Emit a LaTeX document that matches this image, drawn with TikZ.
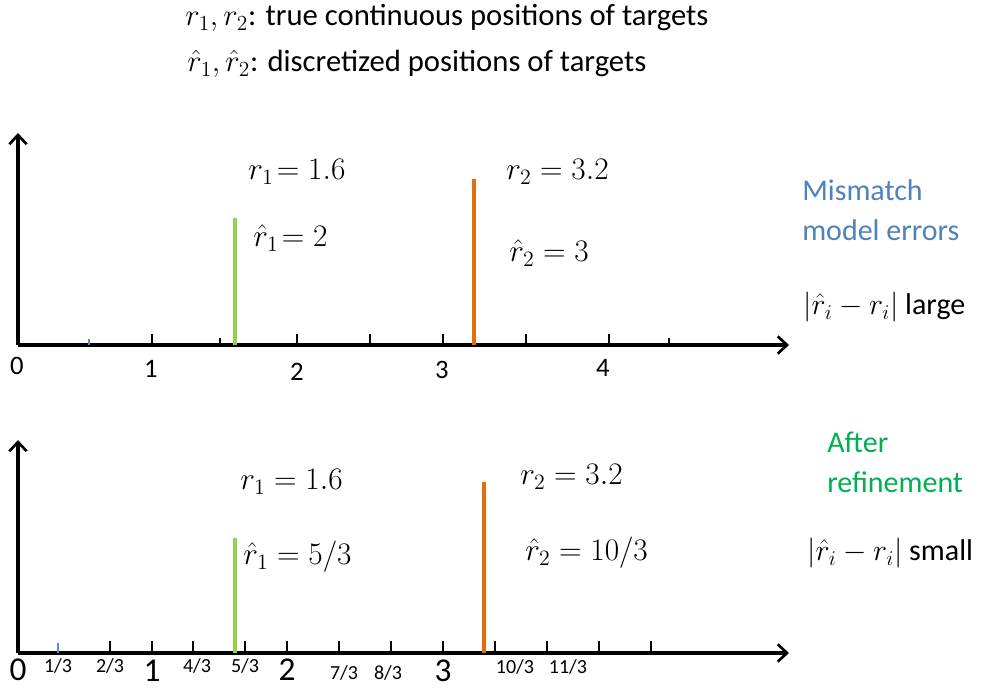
\RequirePackage{fix-cm}
\documentclass[tikz,border=0pt]{standalone}
\usepackage{fontspec}
\setmainfont{Carlito}
\usetikzlibrary{arrows.meta}
\definecolor{tgreen}{HTML}{92D050}
\definecolor{torange}{HTML}{E46C0A}
\definecolor{tblue}{HTML}{4F81BD}
\definecolor{tgreentext}{HTML}{00B050}
\definecolor{tickblue}{HTML}{5B8BD0}
\tikzset{
  axisline/.style={line width=2.3pt,-{Straight Barb[length=7pt,width=13pt,line width=2pt]}},
  tickmark/.style={line width=1.1pt},
  shorttick/.style={line width=1.1pt},
  bluetick/.style={line width=0.8pt,draw=tickblue},
  greenline/.style={line width=2.4pt,draw=tgreen},
  orangeline/.style={line width=2.4pt,draw=torange},
  titletext/.style={font=\fontsize{23}{27}\selectfont,inner sep=0pt,anchor=base west},
  mathlabel/.style={font=\fontsize{23.5}{28}\selectfont,inner sep=0pt,anchor=west},
  digitA/.style={font=\fontsize{20}{24}\selectfont,inner sep=0pt,anchor=base},
  digitB/.style={font=\fontsize{25}{30}\selectfont,inner sep=0pt,anchor=base},
  fracl/.style={font=\fontsize{15}{18}\selectfont,inner sep=0pt,anchor=base},
  sidetext/.style={font=\fontsize{22.5}{30}\selectfont,inner sep=0pt,anchor=west,align=left},
}
\begin{document}
\begin{tikzpicture}[x=0.75pt,y=-0.75pt]
\useasboundingbox (0,0) rectangle (982,688);
% titles
\node[titletext] (t1) at (185,26) {$r_1,r_2$: true continuous positions of targets};
\node[titletext] (t2) at (187,72) {$\hat r_1,\hat r_2$: discretized positions of targets};
% ---------- top axis ----------
\coordinate (oA) at (18,345);
\coordinate (xA) at (789,345);
\coordinate (yA) at (18,133);
\draw[axisline] (oA) -- (xA);
\draw[axisline] (oA) -- (yA);
\foreach \x in {152,297,370,443,526,609}{\draw[tickmark] (\x,334) -- (\x,345);}
\foreach \x in {220,669}{\draw[shorttick] (\x,338) -- (\x,345);}
\draw[bluetick] (89,339) -- (89,345);
\coordinate (gA) at (235,345);
\coordinate (gAt) at (235,218);
\coordinate (oAb) at (474,345);
\coordinate (oAt) at (474,179);
\draw[greenline] (gA) -- (gAt);
\draw[orangeline] (oAb) -- (oAt);
\node[digitA] (a0) at (17,374) {0};
\node[digitA] (a1) at (151,377) {1};
\node[digitA] (a2) at (297,380) {2};
\node[digitA] (a3) at (442,378) {3};
\node[digitA] (a4) at (603,376) {4};
\node[mathlabel] (r1a) at (248,172) {$r_1\!=1.6$};
\node[mathlabel] (rh1a) at (253,238) {$\hat r_1\!=2$};
\node[mathlabel] (r2a) at (506,172) {$r_2=3.2$};
\node[mathlabel] (rh2a) at (509,253) {$\hat r_2=3$};
\node[sidetext,text=tblue] (mis) at (802,210) {Mismatch\\model errors};
\node[sidetext] (lg) at (803,307) {$|\hat r_i-r_i|$ large};
% ---------- bottom axis ----------
\coordinate (oB) at (18,653);
\coordinate (xB) at (789,653);
\coordinate (yB) at (18,440);
\draw[axisline] (oB) -- (xB);
\draw[axisline] (oB) -- (yB);
\foreach \x in {110,152,193,245,287,339,391,443,495,547,599,651}{\draw[tickmark] (\x,641) -- (\x,653);}
\draw[bluetick] (58,643) -- (58,653);
\coordinate (gB) at (235,653);
\coordinate (gBt) at (235,538);
\coordinate (oBb) at (484,653);
\coordinate (oBt) at (484,482);
\draw[greenline] (gB) -- (gBt);
\draw[orangeline] (oBb) -- (oBt);
\node[digitB] (b0) at (18,680) {0};
\node[fracl] (b13) at (58,672) {1/3};
\node[fracl] (b23) at (110,672) {2/3};
\node[digitB] (b1) at (152,681) {1};
\node[fracl] (b43) at (197,672) {4/3};
\node[fracl] (b53) at (245,672) {5/3};
\node[digitB] (b2) at (287,680) {2};
\node[fracl] (b73) at (344,679) {7/3};
\node[fracl] (b83) at (388,679) {8/3};
\node[digitB] (b3) at (443,681) {3};
\node[fracl] (b103) at (515,673) {10/3};
\node[fracl] (b113) at (568,673) {11/3};
\node[mathlabel] (r1b) at (240,482) {$r_1=1.6$};
\node[mathlabel] (rh1b) at (243,557) {$\hat r_1=5/3$};
\node[mathlabel] (r2b) at (520,477) {$r_2=3.2$};
\node[mathlabel] (rh2b) at (525,553) {$\hat r_2=10/3$};
\node[sidetext,text=tgreentext] (aft) at (827,462) {After\\refinement};
\node[sidetext] (sm) at (807,553) {$|\hat r_i-r_i|$ small};
\end{tikzpicture}
\end{document}
